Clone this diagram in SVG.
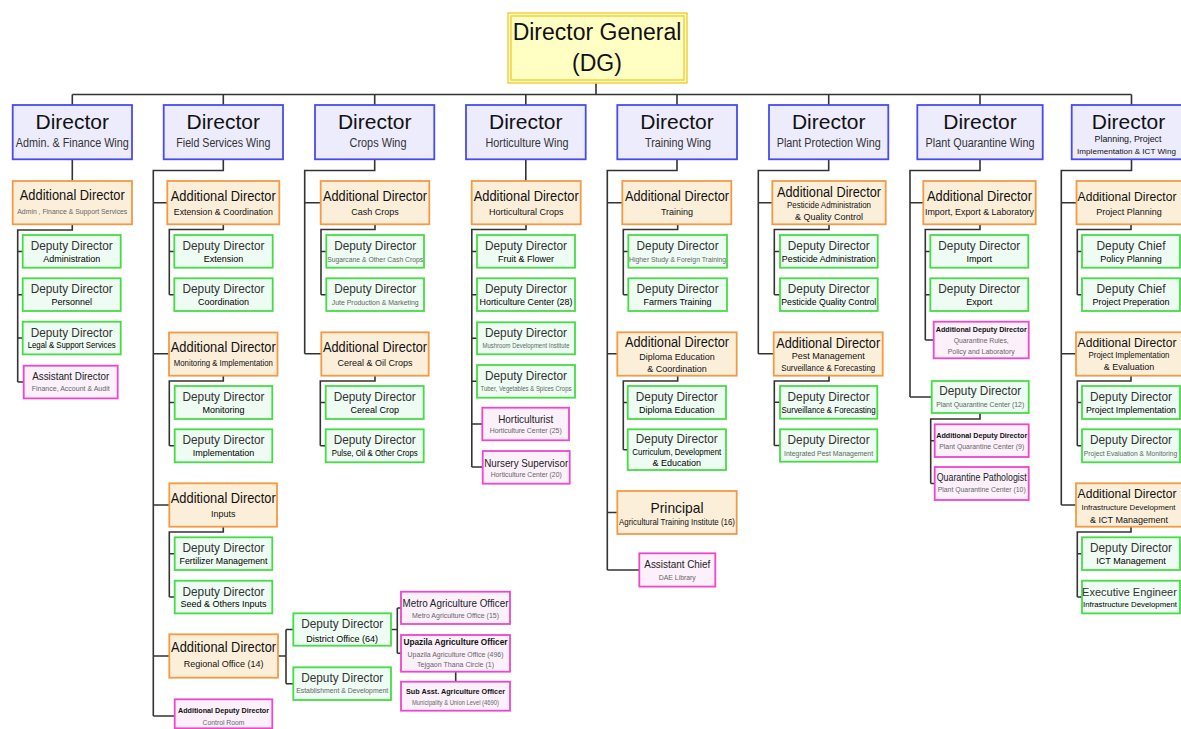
<svg xmlns="http://www.w3.org/2000/svg" width="1181" height="729" viewBox="0 0 1181 729">
<style>
text{font-family:"Liberation Sans",Arial,sans-serif;text-anchor:middle}
.dg{fill:#ffffc4;stroke:#f3d24a;stroke-width:1.6}
.dir{fill:#ececfc;stroke:#4a4af2;stroke-width:1.8}
.ad{fill:#fcefd9;stroke:#f49a45;stroke-width:1.8}
.dd{fill:#eefcf3;stroke:#45dd45;stroke-width:1.8}
.pk{fill:#fcf1fb;stroke:#ee46cc;stroke-width:1.8}
.conn path{fill:none;stroke:#333;stroke-width:1.6}
.tdg{font-size:23px;fill:#111}
.tdir{font-size:21px;fill:#111}
.twing{font-size:12.5px;fill:#333}
.tad{font-size:14px;fill:#111}
.tads{font-size:9px;fill:#111}
.tdd{font-size:13px;fill:#333}
.tds{font-size:9px;fill:#000}
.tiny{font-size:7.5px;fill:#666}
.tpk{font-size:11px;fill:#222}
.tpb{font-size:8px;fill:#111;font-weight:bold}
</style>

<g class="conn" id="connectors">
<path d="M596,83V94.5M72.3,94.5H1131.5"/>
<path d="M72.3,94.5V105M223.3,94.5V105M374.7,94.5V105M525.8,94.5V105M677,94.5V105M828.7,94.5V105M980,94.5V105M1131.5,94.5V105"/>
<path d="M72.3,159.3V181M72.3,224.3V230H17.7V382M17.7,251.5H22.7M17.7,294.7H22.7M17.7,338H22.7M17.7,382H23.7"/>
<path d="M223.3,159.3V170.5H153.3V716M153.3,202.7H167.3M153.3,353.7H169M153.3,505H169.3M153.3,656H169.3M153.3,716H174.7"/>
<path d="M223.3,224.3V229.5H169.3V294.7M169.3,251.5H174.3M169.3,294.7H174.3"/>
<path d="M223.3,375.7V381H169.3V445.8M169.3,402.5H174.7M169.3,445.8H174.7"/>
<path d="M223.3,526.7V532H169.3V597M169.3,553.7H174.7M169.3,597H174.7"/>
<path d="M278,656H286M286,629.5V683.7M286,629.5H293.3M286,683.7H293.3"/>
<path d="M391,629.5H397.3M397.3,608V653.3M397.3,608H401M397.3,653.3H401M455.7,671.7V681.7"/>
<path d="M374.7,159.3V170.5H304.7V353.7M304.7,202.7H320.7M304.7,353.7H321.3"/>
<path d="M375,224.3V229.5H321V294.7M321,251.5H326.3M321,294.7H326.3"/>
<path d="M375,375.7V381H320.3V445.8M320.3,402.5H325.7M320.3,445.8H325.7"/>
<path d="M525.8,159.3V181M526,224.3V229.5H471.8V467M471.8,251.5H477M471.8,294.7H477M471.8,338.3H477M471.8,381.3H477M471.8,424H482.3M471.8,467H482.7"/>
<path d="M677,159.3V170.5H607.3V570M607.3,202.7H622.3M607.3,353.7H617.3M607.3,512.5H617.3M607.3,570H639.3"/>
<path d="M677.7,224.3V229.5H623.3V294.7M623.3,251.5H628.3M623.3,294.7H628.3"/>
<path d="M677.7,375.7V381H623.3V449.7M623.3,402.5H627.7M623.3,449.7H627.7"/>
<path d="M828.7,159.3V170.5H758.3V353.7M758.3,202.7H772.3M758.3,353.7H773.7"/>
<path d="M829,224.3V229.5H774.3V294.7M774.3,251.5H780M774.3,294.7H780"/>
<path d="M829,375.7V381H774.3V445.5M774.3,402.3H780M774.3,445.5H780"/>
<path d="M980,159.3V170.5H910V397M910,202.7H923.3M910,397H931.7"/>
<path d="M980,224.3V229.5H925.3V340M925.3,251.5H930.3M925.3,294.7H930.3M925.3,340H933.7"/>
<path d="M980,413V419H930.7V483.5M930.7,440.7H934.7M930.7,483.5H934.7"/>
<path d="M1131.5,159.3V170.5H1061.3V505M1061.3,202.7H1076.5M1061.3,353.7H1076.5M1061.3,505H1076.5"/>
<path d="M1131,224.3V229.5H1077.3V294.7M1077.3,251.5H1082M1077.3,294.7H1082"/>
<path d="M1131,375.7V381H1077.3V445.8M1077.3,402.5H1082M1077.3,445.8H1082"/>
<path d="M1131,526.7V532H1077.3V597M1077.3,553.7H1082M1077.3,597H1082"/>
</g>

<g id="dg">
<rect class="dg" x="508" y="13" width="179" height="70"/>
<rect class="dg" x="511" y="16" width="173" height="64" stroke-width="1"/>
<text class="tdg" x="597" y="39.5">Director General</text>
<text class="tdg" x="597" y="71">(DG)</text>
</g>

<g id="dir-admin"><rect class="dir" x="12.7" y="105" width="119.3" height="54.3"/><text class="tdir" x="72.3" y="129.3">Director</text><text class="twing" x="72.3" y="147.3" textLength="113" lengthAdjust="spacingAndGlyphs">Admin. &amp; Finance Wing</text></g>
<g id="dir-field"><rect class="dir" x="163.7" y="105" width="119.3" height="54.3"/><text class="tdir" x="223.3" y="129.3">Director</text><text class="twing" x="223.3" y="147.3" textLength="94" lengthAdjust="spacingAndGlyphs">Field Services Wing</text></g>
<g id="dir-crops"><rect class="dir" x="315" y="105" width="119.3" height="54.3"/><text class="tdir" x="374.7" y="129.3">Director</text><text class="twing" x="378" y="147.3" textLength="57" lengthAdjust="spacingAndGlyphs">Crops Wing</text></g>
<g id="dir-hort"><rect class="dir" x="466" y="105" width="119.7" height="54.3"/><text class="tdir" x="525.8" y="129.3">Director</text><text class="twing" x="527" y="147.3" textLength="83" lengthAdjust="spacingAndGlyphs">Horticulture Wing</text></g>
<g id="dir-training"><rect class="dir" x="617.3" y="105" width="119.7" height="54.3"/><text class="tdir" x="677" y="129.3">Director</text><text class="twing" x="678" y="147.3" textLength="66" lengthAdjust="spacingAndGlyphs">Training Wing</text></g>
<g id="dir-pp"><rect class="dir" x="769" y="105" width="119.3" height="54.3"/><text class="tdir" x="828.7" y="129.3">Director</text><text class="twing" x="828.7" y="147.3" textLength="104" lengthAdjust="spacingAndGlyphs">Plant Protection Wing</text></g>
<g id="dir-pq"><rect class="dir" x="917.3" y="105" width="125.4" height="54.3"/><text class="tdir" x="980" y="129.3">Director</text><text class="twing" x="980" y="147.3" textLength="109" lengthAdjust="spacingAndGlyphs">Plant Quarantine Wing</text></g>
<g id="dir-plan"><rect class="dir" x="1071.7" y="105" width="110.3" height="54.3"/><text class="tdir" x="1128.5" y="129.3">Director</text><text class="tads" x="1128" y="141.7" style="font-size:9.5px" textLength="67" lengthAdjust="spacingAndGlyphs">Planning, Project</text><text class="tads" x="1126.5" y="154.3" style="font-size:8.1px">Implementation &amp; ICT Wing</text></g>

<g id="ad-admin"><rect class="ad" x="12.7" y="181" width="119.3" height="43.3"/><text class="tad" x="72.3" y="200" textLength="105" lengthAdjust="spacingAndGlyphs">Additional Director</text><text class="tiny" x="72.3" y="214" textLength="110" lengthAdjust="spacingAndGlyphs">Admin , Finance &amp; Support Services</text></g>
<g id="dd-administration"><rect class="dd" x="22.7" y="235" width="98" height="32.7"/><text class="tdd" x="71.7" y="250" textLength="82" lengthAdjust="spacingAndGlyphs">Deputy Director</text><text class="tds" x="71.7" y="261.5">Administration</text></g>
<g id="dd-personnel"><rect class="dd" x="22.7" y="278.3" width="98" height="32.7"/><text class="tdd" x="71.7" y="293.3" textLength="82" lengthAdjust="spacingAndGlyphs">Deputy Director</text><text class="tds" x="71.7" y="304.8">Personnel</text></g>
<g id="dd-legal"><rect class="dd" x="22.7" y="321.7" width="98" height="32.7"/><text class="tdd" x="71.7" y="336.7" textLength="82" lengthAdjust="spacingAndGlyphs">Deputy Director</text><text class="tds" x="71.7" y="348.2" textLength="88" lengthAdjust="spacingAndGlyphs">Legal &amp; Support Services</text></g>
<g id="ad-finance"><rect class="pk" x="23.7" y="365.7" width="94" height="32.7"/><text class="tpk" x="70.7" y="380.2" textLength="77" lengthAdjust="spacingAndGlyphs">Assistant Director</text><text class="tiny" x="70.7" y="391.2" textLength="78" lengthAdjust="spacingAndGlyphs">Finance, Account &amp; Audit</text></g>

<g id="ad-ext"><rect class="ad" x="167.3" y="181" width="112" height="43.3"/><text class="tad" x="223.3" y="201" textLength="105" lengthAdjust="spacingAndGlyphs">Additional Director</text><text class="tads" x="223.3" y="215" textLength="99" lengthAdjust="spacingAndGlyphs">Extension &amp; Coordination</text></g>
<g id="dd-extension"><rect class="dd" x="174.3" y="235" width="98.4" height="32.7"/><text class="tdd" x="223.5" y="250" textLength="82" lengthAdjust="spacingAndGlyphs">Deputy Director</text><text class="tds" x="223.5" y="261.5">Extension</text></g>
<g id="dd-coordination"><rect class="dd" x="174.3" y="278.3" width="98.4" height="32.7"/><text class="tdd" x="223.5" y="293.3" textLength="82" lengthAdjust="spacingAndGlyphs">Deputy Director</text><text class="tds" x="223.5" y="304.8">Coordination</text></g>
<g id="ad-mon"><rect class="ad" x="169" y="332.5" width="108.5" height="43.2"/><text class="tad" x="223.3" y="351.8" textLength="105" lengthAdjust="spacingAndGlyphs">Additional Director</text><text class="tads" x="223.3" y="366" textLength="99" lengthAdjust="spacingAndGlyphs">Monitoring &amp; Implementation</text></g>
<g id="dd-monitoring"><rect class="dd" x="174.7" y="386" width="97.6" height="33"/><text class="tdd" x="223.5" y="401" textLength="82" lengthAdjust="spacingAndGlyphs">Deputy Director</text><text class="tds" x="223.5" y="412.5">Monitoring</text></g>
<g id="dd-implementation"><rect class="dd" x="174.7" y="429.3" width="97.6" height="33"/><text class="tdd" x="223.5" y="444.3" textLength="82" lengthAdjust="spacingAndGlyphs">Deputy Director</text><text class="tds" x="223.5" y="455.8">Implementation</text></g>
<g id="ad-inputs"><rect class="ad" x="169.3" y="483.3" width="107.7" height="43.4"/><text class="tad" x="223.3" y="502.7" textLength="105" lengthAdjust="spacingAndGlyphs">Additional Director</text><text class="tads" x="223.3" y="516.5">Inputs</text></g>
<g id="dd-fertilizer"><rect class="dd" x="174.7" y="537.3" width="97.6" height="32.7"/><text class="tdd" x="223.5" y="552.3" textLength="82" lengthAdjust="spacingAndGlyphs">Deputy Director</text><text class="tds" x="223.5" y="563.8" textLength="88" lengthAdjust="spacingAndGlyphs">Fertilizer Management</text></g>
<g id="dd-seed"><rect class="dd" x="174.7" y="580.7" width="97.6" height="32.7"/><text class="tdd" x="223.5" y="595.7" textLength="82" lengthAdjust="spacingAndGlyphs">Deputy Director</text><text class="tds" x="223.5" y="607.2">Seed &amp; Others Inputs</text></g>
<g id="ad-regional"><rect class="ad" x="169.3" y="634.3" width="108.7" height="43.4"/><text class="tad" x="223.6" y="651.7" textLength="105" lengthAdjust="spacingAndGlyphs">Additional Director</text><text class="tads" x="223.6" y="666.5">Regional Office (14)</text></g>
<g id="dd-district"><rect class="dd" x="293.3" y="613.3" width="97.7" height="32.4"/><text class="tdd" x="342.2" y="628.3" textLength="82" lengthAdjust="spacingAndGlyphs">Deputy Director</text><text class="tds" x="342.2" y="641.5">District Office (64)</text></g>
<g id="dd-establishment"><rect class="dd" x="293.3" y="667.3" width="97.7" height="32.7"/><text class="tdd" x="342.2" y="682" textLength="82" lengthAdjust="spacingAndGlyphs">Deputy Director</text><text class="tiny" x="342.2" y="693.3" textLength="92" lengthAdjust="spacingAndGlyphs">Establishment &amp; Development</text></g>
<g id="add-control"><rect class="pk" x="174.7" y="699.3" width="97.6" height="29"/><text class="tpb" x="223.5" y="713.3" textLength="91" lengthAdjust="spacingAndGlyphs">Additional Deputy Director</text><text class="tiny" x="223.5" y="725" textLength="42" lengthAdjust="spacingAndGlyphs">Control Room</text></g>
<g id="metro"><rect class="pk" x="401" y="591.7" width="109" height="32.3"/><text class="tpk" x="455.5" y="606.7" style="font-size:10px" textLength="106" lengthAdjust="spacingAndGlyphs">Metro Agriculture Officer</text><text class="tiny" x="455.5" y="617.7" textLength="87" lengthAdjust="spacingAndGlyphs">Metro Agriculture Office (15)</text></g>
<g id="upazila"><rect class="pk" x="401" y="635" width="109" height="36.7"/><text class="tpb" x="455.5" y="645.3" style="font-size:8.5px" textLength="104" lengthAdjust="spacingAndGlyphs">Upazila Agriculture Officer</text><text class="tiny" x="455.5" y="657.3" textLength="96" lengthAdjust="spacingAndGlyphs">Upazila Agriculture Office (496)</text><text class="tiny" x="455.5" y="667.3" textLength="77" lengthAdjust="spacingAndGlyphs">Tejgaon Thana Circle (1)</text></g>
<g id="subasst"><rect class="pk" x="401" y="681.7" width="109" height="29"/><text class="tpb" x="455.5" y="694.3" textLength="99" lengthAdjust="spacingAndGlyphs">Sub Asst. Agriculture Officer</text><text class="tiny" x="455.5" y="704.5" style="font-size:6.5px" textLength="87" lengthAdjust="spacingAndGlyphs">Municipality &amp; Union Level (4690)</text></g>

<g id="ad-cash"><rect class="ad" x="320.7" y="181" width="108.6" height="43.3"/><text class="tad" x="375" y="201" textLength="104" lengthAdjust="spacingAndGlyphs">Additional Director</text><text class="tads" x="375" y="215">Cash Crops</text></g>
<g id="dd-sugarcane"><rect class="dd" x="326.3" y="235" width="97.7" height="32.7"/><text class="tdd" x="375.2" y="250" textLength="82" lengthAdjust="spacingAndGlyphs">Deputy Director</text><text class="tiny" x="375.2" y="261.5" textLength="96" lengthAdjust="spacingAndGlyphs">Sugarcane &amp; Other Cash Crops</text></g>
<g id="dd-jute"><rect class="dd" x="326.3" y="278.3" width="97.7" height="32.7"/><text class="tdd" x="375.2" y="293.3" textLength="82" lengthAdjust="spacingAndGlyphs">Deputy Director</text><text class="tiny" x="375.2" y="304.8" textLength="87" lengthAdjust="spacingAndGlyphs">Jute Production &amp; Marketing</text></g>
<g id="ad-cereal"><rect class="ad" x="321.3" y="332.3" width="107.4" height="43.4"/><text class="tad" x="375" y="351.8" textLength="104" lengthAdjust="spacingAndGlyphs">Additional Director</text><text class="tads" x="375" y="366">Cereal &amp; Oil Crops</text></g>
<g id="dd-cereal"><rect class="dd" x="325.7" y="386" width="98" height="33"/><text class="tdd" x="374.7" y="401" textLength="82" lengthAdjust="spacingAndGlyphs">Deputy Director</text><text class="tds" x="374.7" y="412.5">Cereal Crop</text></g>
<g id="dd-pulse"><rect class="dd" x="325.7" y="429.3" width="98" height="33"/><text class="tdd" x="374.7" y="444.3" textLength="82" lengthAdjust="spacingAndGlyphs">Deputy Director</text><text class="tds" x="374.7" y="455.8" textLength="86" lengthAdjust="spacingAndGlyphs">Pulse, Oil &amp; Other Crops</text></g>

<g id="ad-hort"><rect class="ad" x="471.7" y="181" width="109" height="43.3"/><text class="tad" x="526.2" y="201" textLength="105" lengthAdjust="spacingAndGlyphs">Additional Director</text><text class="tads" x="526.2" y="215">Horticultural Crops</text></g>
<g id="dd-fruit"><rect class="dd" x="477" y="235" width="98" height="32.7"/><text class="tdd" x="526" y="250" textLength="82" lengthAdjust="spacingAndGlyphs">Deputy Director</text><text class="tds" x="526" y="261.5">Fruit &amp; Flower</text></g>
<g id="dd-hortcenter"><rect class="dd" x="477" y="278.3" width="98" height="32.7"/><text class="tdd" x="526" y="293.3" textLength="82" lengthAdjust="spacingAndGlyphs">Deputy Director</text><text class="tds" x="526" y="304.8" textLength="93" lengthAdjust="spacingAndGlyphs">Horticulture Center (28)</text></g>
<g id="dd-mushroom"><rect class="dd" x="477" y="322.3" width="98" height="32"/><text class="tdd" x="526" y="337" textLength="82" lengthAdjust="spacingAndGlyphs">Deputy Director</text><text class="tiny" x="526" y="348" textLength="87" lengthAdjust="spacingAndGlyphs">Mushroom Development Institute</text></g>
<g id="dd-tuber"><rect class="dd" x="477" y="365" width="98" height="32.7"/><text class="tdd" x="526" y="380" textLength="82" lengthAdjust="spacingAndGlyphs">Deputy Director</text><text class="tiny" x="526" y="391.3" textLength="91" lengthAdjust="spacingAndGlyphs">Tuber, Vegetables &amp; Spices Crops</text></g>
<g id="horticulturist"><rect class="pk" x="482.3" y="407.7" width="86.7" height="32.6"/><text class="tpk" x="525.7" y="423.3" textLength="55" lengthAdjust="spacingAndGlyphs">Horticulturist</text><text class="tiny" x="525.7" y="433" textLength="72" lengthAdjust="spacingAndGlyphs">Horticulture Center (25)</text></g>
<g id="nursery"><rect class="pk" x="482.7" y="451" width="87" height="32.7"/><text class="tpk" x="526.2" y="466.7" textLength="84" lengthAdjust="spacingAndGlyphs">Nursery Supervisor</text><text class="tiny" x="526.2" y="476.7" textLength="71" lengthAdjust="spacingAndGlyphs">Horticulture Center (20)</text></g>

<g id="ad-training"><rect class="ad" x="622.3" y="181" width="109" height="43.3"/><text class="tad" x="677" y="201" textLength="104" lengthAdjust="spacingAndGlyphs">Additional Director</text><text class="tads" x="677" y="215">Training</text></g>
<g id="dd-higher"><rect class="dd" x="628.3" y="235" width="98.7" height="32.7"/><text class="tdd" x="677.6" y="250" textLength="82" lengthAdjust="spacingAndGlyphs">Deputy Director</text><text class="tiny" x="677.6" y="261.5" textLength="97" lengthAdjust="spacingAndGlyphs">Higher Study &amp; Foreign Training</text></g>
<g id="dd-farmers"><rect class="dd" x="628.3" y="278.3" width="98.7" height="32.7"/><text class="tdd" x="677.6" y="293.3" textLength="82" lengthAdjust="spacingAndGlyphs">Deputy Director</text><text class="tds" x="677.6" y="304.8">Farmers Training</text></g>
<g id="ad-diploma"><rect class="ad" x="617.3" y="332.3" width="119.4" height="43.4"/><text class="tad" x="677" y="347.3" textLength="104" lengthAdjust="spacingAndGlyphs">Additional Director</text><text class="tads" x="677" y="360">Diploma Education</text><text class="tads" x="677" y="371.7">&amp; Coordination</text></g>
<g id="dd-diploma"><rect class="dd" x="627.7" y="386" width="98.3" height="33"/><text class="tdd" x="676.8" y="401" textLength="82" lengthAdjust="spacingAndGlyphs">Deputy Director</text><text class="tds" x="676.8" y="412.5">Diploma Education</text></g>
<g id="dd-curriculum"><rect class="dd" x="627.7" y="429.3" width="98.3" height="40.7"/><text class="tdd" x="676.8" y="443.3" textLength="82" lengthAdjust="spacingAndGlyphs">Deputy Director</text><text class="tds" x="676.8" y="455" textLength="89" lengthAdjust="spacingAndGlyphs">Curriculum, Development</text><text class="tds" x="676.8" y="466">&amp; Education</text></g>
<g id="principal"><rect class="ad" x="617.3" y="491" width="119.4" height="43"/><text class="tad" x="677" y="512.7" style="font-size:15px" textLength="53" lengthAdjust="spacingAndGlyphs">Principal</text><text class="tads" x="677" y="525" textLength="116" lengthAdjust="spacingAndGlyphs">Agricultural Training Institute (16)</text></g>
<g id="asst-chief"><rect class="pk" x="639.3" y="553.3" width="76" height="33.3"/><text class="tpk" x="677.3" y="568.3" textLength="66" lengthAdjust="spacingAndGlyphs">Assistant Chief</text><text class="tiny" x="677.3" y="580" textLength="37" lengthAdjust="spacingAndGlyphs">DAE Library</text></g>

<g id="ad-pesticide"><rect class="ad" x="772.3" y="181" width="113.4" height="43.3"/><text class="tad" x="829" y="196.7" textLength="104" lengthAdjust="spacingAndGlyphs">Additional Director</text><text class="tads" x="829" y="207.7" textLength="84" lengthAdjust="spacingAndGlyphs">Pesticide Administration</text><text class="tads" x="829" y="220">&amp; Quality Control</text></g>
<g id="dd-pestadmin"><rect class="dd" x="780" y="235" width="97.7" height="32.7"/><text class="tdd" x="828.8" y="250" textLength="82" lengthAdjust="spacingAndGlyphs">Deputy Director</text><text class="tds" x="828.8" y="261.5" textLength="94" lengthAdjust="spacingAndGlyphs">Pesticide Administration</text></g>
<g id="dd-pestqc"><rect class="dd" x="780" y="278.3" width="97.7" height="32.7"/><text class="tdd" x="828.8" y="293.3" textLength="82" lengthAdjust="spacingAndGlyphs">Deputy Director</text><text class="tds" x="828.8" y="304.8" textLength="95" lengthAdjust="spacingAndGlyphs">Pesticide Quality Control</text></g>
<g id="ad-pest"><rect class="ad" x="773.7" y="332.3" width="109" height="43.4"/><text class="tad" x="828.2" y="347.5" textLength="104" lengthAdjust="spacingAndGlyphs">Additional Director</text><text class="tads" x="828.2" y="358.5">Pest Management</text><text class="tads" x="828.2" y="371" textLength="94" lengthAdjust="spacingAndGlyphs">Surveillance &amp; Forecasting</text></g>
<g id="dd-surveillance"><rect class="dd" x="780" y="386" width="97.3" height="32.7"/><text class="tdd" x="828.6" y="401" textLength="82" lengthAdjust="spacingAndGlyphs">Deputy Director</text><text class="tds" x="828.6" y="412.5" textLength="94" lengthAdjust="spacingAndGlyphs">Surveillance &amp; Forecasting</text></g>
<g id="dd-ipm"><rect class="dd" x="780" y="429.3" width="97.3" height="32.4"/><text class="tdd" x="828.6" y="444.3" textLength="82" lengthAdjust="spacingAndGlyphs">Deputy Director</text><text class="tiny" x="828.6" y="455.8" textLength="89" lengthAdjust="spacingAndGlyphs">Integrated Pest Management</text></g>

<g id="ad-import"><rect class="ad" x="923.3" y="181" width="112.4" height="43.3"/><text class="tad" x="979.5" y="201" textLength="105" lengthAdjust="spacingAndGlyphs">Additional Director</text><text class="tads" x="979.5" y="215" textLength="109" lengthAdjust="spacingAndGlyphs">Import, Export &amp; Laboratory</text></g>
<g id="dd-import"><rect class="dd" x="930.3" y="235" width="98" height="32.7"/><text class="tdd" x="979.3" y="250" textLength="82" lengthAdjust="spacingAndGlyphs">Deputy Director</text><text class="tds" x="979.3" y="261.5">Import</text></g>
<g id="dd-export"><rect class="dd" x="930.3" y="278.3" width="98" height="32.7"/><text class="tdd" x="979.3" y="293.3" textLength="82" lengthAdjust="spacingAndGlyphs">Deputy Director</text><text class="tds" x="979.3" y="304.8">Export</text></g>
<g id="add-quarantine"><rect class="pk" x="933.7" y="321.7" width="95" height="36.6"/><text class="tpb" x="981.2" y="331.7" textLength="91" lengthAdjust="spacingAndGlyphs">Additional Deputy Director</text><text class="tiny" x="981.2" y="343.3" textLength="55" lengthAdjust="spacingAndGlyphs">Quarantine Rules,</text><text class="tiny" x="981.2" y="354.3" textLength="67" lengthAdjust="spacingAndGlyphs">Policy and Laboratory</text></g>
<g id="dd-pqc"><rect class="dd" x="931.7" y="381" width="97" height="32"/><text class="tdd" x="980.2" y="395" textLength="82" lengthAdjust="spacingAndGlyphs">Deputy Director</text><text class="tiny" x="980.2" y="406.7" style="font-size:8px" textLength="88" lengthAdjust="spacingAndGlyphs">Plant Quarantine Center (12)</text></g>
<g id="add-pqc"><rect class="pk" x="934.7" y="424.3" width="94" height="32.7"/><text class="tpb" x="981.7" y="438.3" textLength="91" lengthAdjust="spacingAndGlyphs">Additional Deputy Director</text><text class="tiny" x="981.7" y="449.3" textLength="85" lengthAdjust="spacingAndGlyphs">Plant Quarantine Center (9)</text></g>
<g id="pathologist"><rect class="pk" x="934.7" y="467" width="94" height="33"/><text class="tpk" x="981.7" y="480.7" style="font-size:10px" textLength="90" lengthAdjust="spacingAndGlyphs">Quarantine Pathologist</text><text class="tiny" x="981.7" y="491.7" textLength="88" lengthAdjust="spacingAndGlyphs">Plant Quarantine Center (10)</text></g>

<g id="ad-planning"><rect class="ad" x="1076.5" y="181" width="105.5" height="43.3"/><text class="tad" x="1127" y="201" style="font-size:12.1px">Additional Director</text><text class="tads" x="1129" y="215">Project Planning</text></g>
<g id="dc-policy"><rect class="dd" x="1082" y="235" width="98" height="32.7"/><text class="tdd" x="1131" y="250" textLength="69" lengthAdjust="spacingAndGlyphs">Deputy Chief</text><text class="tds" x="1131" y="261.5">Policy Planning</text></g>
<g id="dc-prep"><rect class="dd" x="1082" y="278.3" width="98" height="32.7"/><text class="tdd" x="1131" y="293.3" textLength="69" lengthAdjust="spacingAndGlyphs">Deputy Chief</text><text class="tds" x="1131" y="304.8">Project Preperation</text></g>
<g id="ad-projimpl"><rect class="ad" x="1076" y="332.3" width="106" height="43.4"/><text class="tad" x="1127" y="346.7" style="font-size:12.1px">Additional Director</text><text class="tads" x="1129" y="358.3" textLength="81" lengthAdjust="spacingAndGlyphs">Project Implementation</text><text class="tads" x="1129" y="370">&amp; Evaluation</text></g>
<g id="dd-projimpl"><rect class="dd" x="1082" y="386" width="98" height="33"/><text class="tdd" x="1131" y="401" textLength="82" lengthAdjust="spacingAndGlyphs">Deputy Director</text><text class="tds" x="1131" y="412.5" textLength="90" lengthAdjust="spacingAndGlyphs">Project Implementation</text></g>
<g id="dd-projeval"><rect class="dd" x="1082" y="429.3" width="98" height="33"/><text class="tdd" x="1131" y="444.3" textLength="82" lengthAdjust="spacingAndGlyphs">Deputy Director</text><text class="tiny" x="1130.5" y="455.8" style="font-size:6.7px">Project Evaluation &amp; Monitoring</text></g>
<g id="ad-infra"><rect class="ad" x="1076" y="483.3" width="106" height="43.4"/><text class="tad" x="1127" y="498.3" style="font-size:12.1px">Additional Director</text><text class="tads" x="1128.5" y="510" style="font-size:7.8px">Infrastructure Development</text><text class="tads" x="1129" y="522.7">&amp; ICT Management</text></g>
<g id="dd-ict"><rect class="dd" x="1082" y="537.3" width="98" height="32.7"/><text class="tdd" x="1131" y="552.3" textLength="82" lengthAdjust="spacingAndGlyphs">Deputy Director</text><text class="tds" x="1131" y="563.8">ICT Management</text></g>
<g id="ee-infra"><rect class="dd" x="1082" y="580.7" width="98" height="32.7"/><text class="tdd" x="1129.5" y="595.7" style="font-size:11px">Executive Engineer</text><text class="tds" x="1130" y="607.2" style="font-size:7.8px">Infrastructure Development</text></g>
</svg>
